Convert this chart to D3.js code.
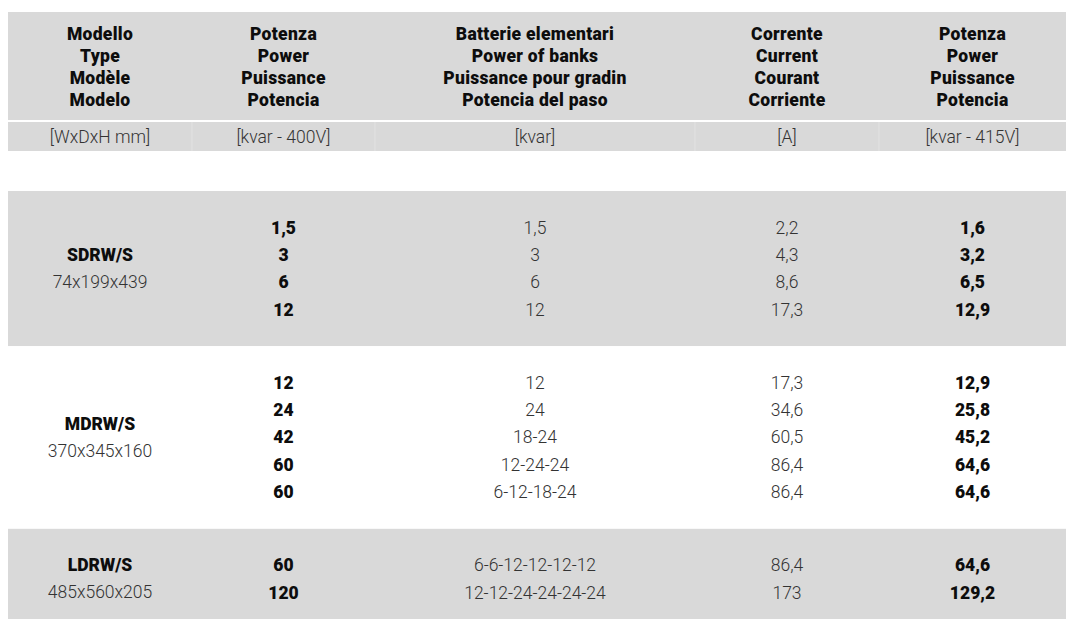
<!DOCTYPE html>
<html>
<head>
<meta charset="utf-8">
<script src="https://cdn.jsdelivr.net/npm/d3@7"></script>
<style>
  body { margin: 0; background: #fff; }
  svg { display: block; font-family: Roboto, "Noto Sans", sans-serif; }
</style>
</head>
<body>
<div id="table"></div>
<script>
// Table data
var headers = [
  ["Modello", "Type", "Modèle", "Modelo"],
  ["Potenza", "Power", "Puissance", "Potencia"],
  ["Batterie elementari", "Power of banks", "Puissance pour gradin", "Potencia del paso"],
  ["Corrente", "Current", "Courant", "Corriente"],
  ["Potenza", "Power", "Puissance", "Potencia"]
];
var units = ["[WxDxH mm]", "[kvar - 400V]", "[kvar]", "[A]", "[kvar - 415V]"];

var models = ["SDRW/S", "MDRW/S", "LDRW/S"];
var dimensions = ["74x199x439", "370x345x160", "485x560x205"];
var power400 = [["1,5", "3", "6", "12"], ["12", "24", "42", "60", "60"], ["60", "120"]];
var banks = [
  ["1,5", "3", "6", "12"],
  ["12", "24", "18-24", "12-24-24", "6-12-18-24"],
  ["6-6-12-12-12-12", "12-12-24-24-24-24"]
];
var current = [["2,2", "4,3", "8,6", "17,3"], ["17,3", "34,6", "60,5", "86,4", "86,4"], ["86,4", "173"]];
var power415 = [["1,6", "3,2", "6,5", "12,9"], ["12,9", "25,8", "45,2", "64,6", "64,6"], ["64,6", "129,2"]];

// Layout
var width = 1066, height = 619;
var colEdges = [8, 192, 375, 695, 879, 1066];
var rowStep = 27.4, groupPad = 22.8;
var grey = "#d9d9d9";

var svg = d3.select("#table").append("svg")
    .attr("width", width)
    .attr("height", height);

var colX = d3.scaleOrdinal()
    .domain(d3.range(5))
    .range(d3.range(5).map(function(i) { return (colEdges[i] + colEdges[i + 1]) / 2; }));

// Header band
svg.append("rect")
    .attr("x", colEdges[0]).attr("y", 12)
    .attr("width", colEdges[5] - colEdges[0]).attr("height", 108)
    .attr("fill", grey);

var lineY = d3.scaleLinear().domain([0, 3]).range([34, 100]);

headers.forEach(function(lines, i) {
  svg.append("g").selectAll("text")
      .data(lines)
    .enter().append("text")
      .attr("x", colX(i))
      .attr("y", function(d, j) { return lineY(j); })
      .attr("text-anchor", "middle")
      .attr("dominant-baseline", "central")
      .style("font-size", "17.5px")
      .style("font-weight", 900)
      .style("letter-spacing", "0.3px")
      .style("fill", "#0d0d0d")
      .text(function(d) { return d; });
});

// Units band
svg.append("rect")
    .attr("x", colEdges[0]).attr("y", 122)
    .attr("width", colEdges[5] - colEdges[0]).attr("height", 29)
    .attr("fill", grey);

svg.selectAll(".sep")
    .data(colEdges.slice(1, 5))
  .enter().append("line")
    .attr("class", "sep")
    .attr("x1", function(d) { return d; }).attr("x2", function(d) { return d; })
    .attr("y1", 122).attr("y2", 151)
    .attr("stroke", "#e2e2e2").attr("stroke-width", 1);

svg.selectAll(".unit")
    .data(units)
  .enter().append("text")
    .attr("class", "unit")
    .attr("x", function(d, i) { return colX(i); })
    .attr("y", 137)
    .attr("text-anchor", "middle")
    .attr("dominant-baseline", "central")
    .style("font-size", "17.5px")
    .style("font-weight", 300)
    .style("fill", "#333")
    .text(function(d) { return d; });

// Groups
var groupTop = 191;
models.forEach(function(model, g) {
  var n = power400[g].length;
  var h = n * rowStep + 2 * groupPad;
  var gEl = svg.append("g").attr("transform", "translate(0," + groupTop + ")");

  gEl.append("rect")
      .attr("x", colEdges[0]).attr("y", 0)
      .attr("width", colEdges[5] - colEdges[0]).attr("height", h)
      .attr("fill", g % 2 === 0 ? grey : "#fff");

  var y = d3.scaleLinear().domain([0, n - 1]).range([groupPad + rowStep / 2, h - groupPad - rowStep / 2]);
  var mid = h / 2;

  gEl.append("text")
      .attr("x", colX(0)).attr("y", mid - 13.5)
      .attr("text-anchor", "middle").attr("dominant-baseline", "central")
      .style("font-size", "17.5px").style("font-weight", 900).style("fill", "#0d0d0d")
      .text(model);
  gEl.append("text")
      .attr("x", colX(0)).attr("y", mid + 13.5)
      .attr("text-anchor", "middle").attr("dominant-baseline", "central")
      .style("font-size", "17.5px").style("font-weight", 300).style("fill", "#333")
      .text(dimensions[g]);

  [power400[g], banks[g], current[g], power415[g]].forEach(function(col, c) {
    var bold = (c === 0 || c === 3);
    gEl.append("g").selectAll("text")
        .data(col)
      .enter().append("text")
        .attr("x", colX(c + 1))
        .attr("y", function(d, j) { return y(j); })
        .attr("text-anchor", "middle")
        .attr("dominant-baseline", "central")
        .style("font-size", "17.5px")
        .style("font-weight", bold ? 900 : 300)
        .style("fill", bold ? "#0d0d0d" : "#333")
        .text(function(d) { return d; });
  });

  groupTop += h;
});
</script>
</body>
</html>
